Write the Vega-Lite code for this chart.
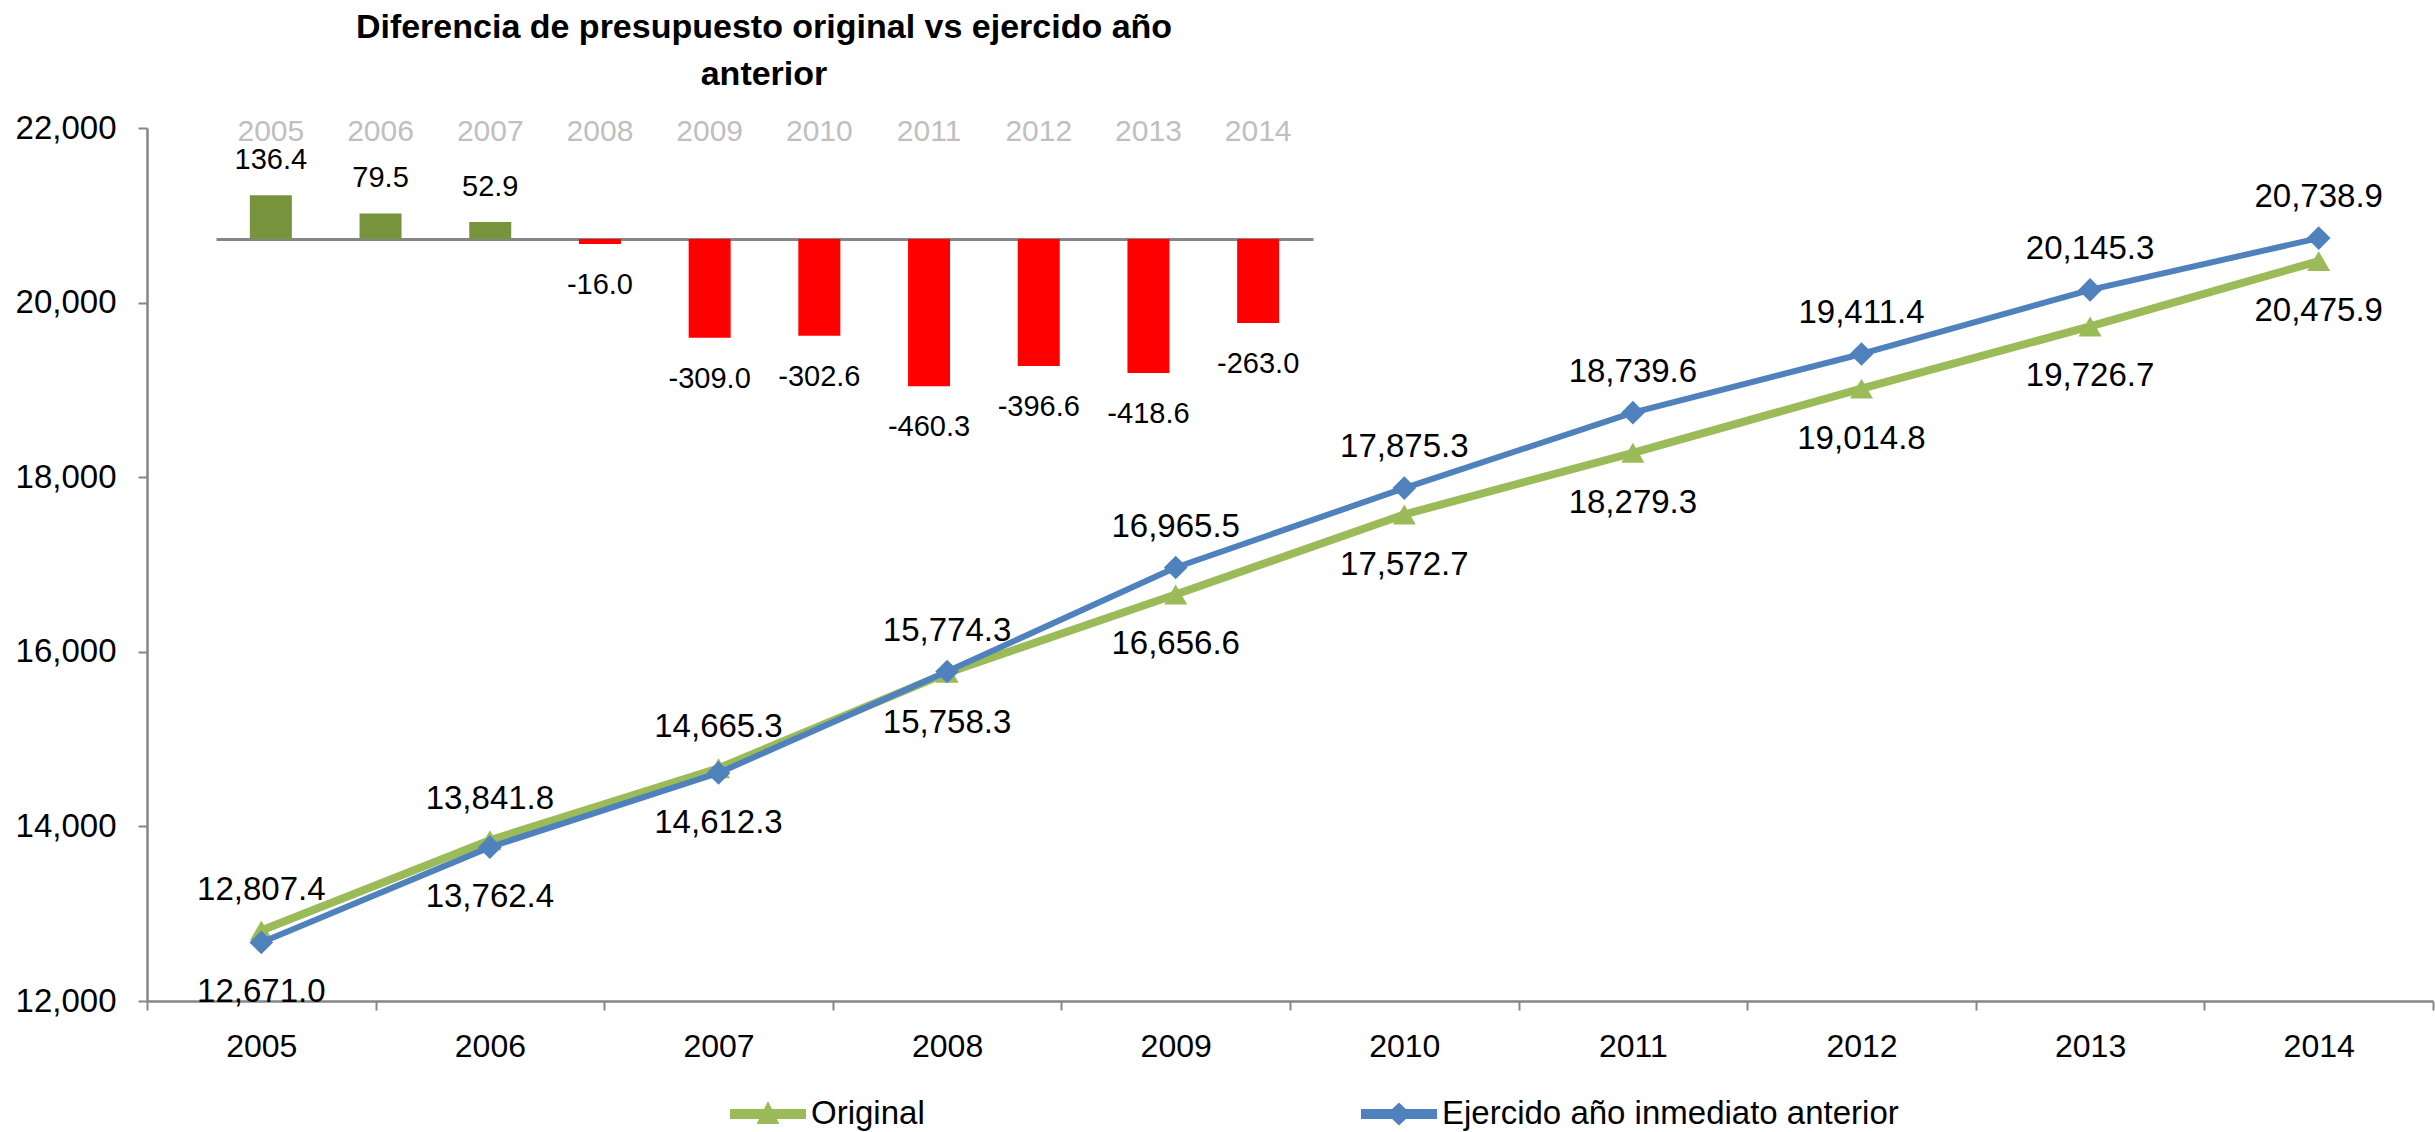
{
  "$schema": "https://vega.github.io/schema/vega-lite/v6.json",
  "width": 2286,
  "height": 873,
  "autosize": {"type": "none"},
  "padding": {"left": 147, "top": 128, "right": 2, "bottom": 131},
  "background": "white",
  "config": {
    "view": {"stroke": null},
    "font": "Liberation Sans",
    "locale": {"number": {"decimal": ".", "thousands": ",", "grouping": [3], "currency": ["$", ""], "minus": "-"}},
    "axis": {"labelFont": "Liberation Sans", "labelColor": "black", "grid": false, "title": null}
  },
  "title": {
    "text": ["Diferencia de presupuesto original vs ejercido año", "anterior"],
    "anchor": "start",
    "frame": "group",
    "align": "center",
    "dx": 617,
    "offset": 20,
    "font": "Liberation Sans",
    "fontSize": 34,
    "fontWeight": "bold",
    "color": "black",
    "lineHeight": 47
  },
  "datasets": {
    "lines": [
      {"year": "2005", "series": "Original", "value": 12807.4},
      {"year": "2006", "series": "Original", "value": 13841.8},
      {"year": "2007", "series": "Original", "value": 14665.3},
      {"year": "2008", "series": "Original", "value": 15758.3},
      {"year": "2009", "series": "Original", "value": 16656.6},
      {"year": "2010", "series": "Original", "value": 17572.7},
      {"year": "2011", "series": "Original", "value": 18279.3},
      {"year": "2012", "series": "Original", "value": 19014.8},
      {"year": "2013", "series": "Original", "value": 19726.7},
      {"year": "2014", "series": "Original", "value": 20475.9},
      {"year": "2005", "series": "Ejercido año inmediato anterior", "value": 12671.0},
      {"year": "2006", "series": "Ejercido año inmediato anterior", "value": 13762.4},
      {"year": "2007", "series": "Ejercido año inmediato anterior", "value": 14612.3},
      {"year": "2008", "series": "Ejercido año inmediato anterior", "value": 15774.3},
      {"year": "2009", "series": "Ejercido año inmediato anterior", "value": 16965.5},
      {"year": "2010", "series": "Ejercido año inmediato anterior", "value": 17875.3},
      {"year": "2011", "series": "Ejercido año inmediato anterior", "value": 18739.6},
      {"year": "2012", "series": "Ejercido año inmediato anterior", "value": 19411.4},
      {"year": "2013", "series": "Ejercido año inmediato anterior", "value": 20145.3},
      {"year": "2014", "series": "Ejercido año inmediato anterior", "value": 20738.9}
    ],
    "diff": [
      {"year": "2005", "diff": 136.4},
      {"year": "2006", "diff": 79.5},
      {"year": "2007", "diff": 52.9},
      {"year": "2008", "diff": -16.0},
      {"year": "2009", "diff": -309.0},
      {"year": "2010", "diff": -302.6},
      {"year": "2011", "diff": -460.3},
      {"year": "2012", "diff": -396.6},
      {"year": "2013", "diff": -418.6},
      {"year": "2014", "diff": -263.0}
    ]
  },
  "layer": [
    {
      "data": {"name": "lines"},
      "encoding": {
        "x": {
          "field": "year", "type": "nominal",
          "scale": {"paddingInner": 0, "paddingOuter": 0},
          "axis": {
            "orient": "bottom", "labelAngle": 0, "labelFontSize": 32, "tickBand": "extent",
            "tickSize": 9, "labelPadding": 21, "domainColor": "#868686", "tickColor": "#868686",
            "domainWidth": 2.5, "tickWidth": 2
          }
        },
        "y": {
          "field": "value", "type": "quantitative",
          "scale": {"domain": [12000, 22000], "nice": false, "zero": false},
          "axis": {
            "values": [12000, 14000, 16000, 18000, 20000, 22000], "format": ",d",
            "labelFontSize": 33, "tickSize": 9, "labelPadding": 22,
            "domainColor": "#868686", "tickColor": "#868686", "domainWidth": 2.5, "tickWidth": 2
          }
        }
      },
      "layer": [
        {
          "transform": [{"filter": "datum.series === 'Original'"}],
          "mark": {"type": "line", "strokeWidth": 8, "strokeJoin": "round", "strokeCap": "round"},
          "encoding": {
            "color": {
              "field": "series", "type": "nominal",
              "scale": {"domain": ["Original", "Ejercido año inmediato anterior"], "range": ["#9BBB59", "#4F81BD"]},
              "legend": {
                "title": null, "orient": "none", "legendX": 583, "legendY": 948, "direction": "horizontal",
                "symbolSize": 5776, "symbolStrokeWidth": 0, "labelFontSize": 33, "labelFont": "Liberation Sans",
                "labelColor": "black", "labelOffset": 5, "labelLimit": 1000, "columnPadding": 436, "padding": 0,
                "encode": {"symbols": {"update": {
                  "shape": {"signal": "datum.value === 'Original' ? 'M-1,-0.13H1V0.13H-1Z M0,-0.34L0.3,0.26H-0.3Z' : 'M-1,-0.13H1V0.13H-1Z M0,-0.3L0.32,0L0,0.3L-0.32,0Z'"},
                  "fill": {"signal": "datum.value === 'Original' ? '#9BBB59' : '#4F81BD'"},
                  "stroke": {"value": "transparent"},
                  "opacity": {"value": 1}
                }}}
              }
            }
          }
        },
        {
          "transform": [{"filter": "datum.series === 'Original'"}],
          "mark": {"type": "point", "shape": "triangle-up", "size": 529, "filled": true, "opacity": 1, "color": "#9BBB59"}
        },
        {
          "transform": [{"filter": "datum.series !== 'Original'"}],
          "mark": {"type": "line", "strokeWidth": 6, "strokeJoin": "round", "strokeCap": "round"},
          "encoding": {
            "color": {
              "field": "series", "type": "nominal",
              "scale": {"domain": ["Original", "Ejercido año inmediato anterior"], "range": ["#9BBB59", "#4F81BD"]},
              "legend": {
                "title": null, "orient": "none", "legendX": 583, "legendY": 948, "direction": "horizontal",
                "symbolSize": 5776, "symbolStrokeWidth": 0, "labelFontSize": 33, "labelFont": "Liberation Sans",
                "labelColor": "black", "labelOffset": 5, "labelLimit": 1000, "columnPadding": 436, "padding": 0,
                "encode": {"symbols": {"update": {
                  "shape": {"signal": "datum.value === 'Original' ? 'M-1,-0.13H1V0.13H-1Z M0,-0.34L0.3,0.26H-0.3Z' : 'M-1,-0.13H1V0.13H-1Z M0,-0.3L0.32,0L0,0.3L-0.32,0Z'"},
                  "fill": {"signal": "datum.value === 'Original' ? '#9BBB59' : '#4F81BD'"},
                  "stroke": {"value": "transparent"},
                  "opacity": {"value": 1}
                }}}
              }
            }
          }
        },
        {
          "transform": [{"filter": "datum.series !== 'Original'"}],
          "mark": {"type": "point", "shape": "diamond", "size": 560, "filled": true, "opacity": 1, "color": "#4F81BD"}
        },
        {
          "transform": [
            {"joinaggregate": [{"op": "max", "field": "value", "as": "maxv"}], "groupby": ["year"]},
            {"filter": "datum.value === datum.maxv"}
          ],
          "mark": {"type": "text", "fontSize": 33, "baseline": "middle", "align": "center", "dy": -41, "color": "black"},
          "encoding": {"text": {"field": "value", "type": "quantitative", "format": ",.1f"}}
        },
        {
          "transform": [
            {"joinaggregate": [{"op": "max", "field": "value", "as": "maxv"}], "groupby": ["year"]},
            {"filter": "datum.value < datum.maxv"}
          ],
          "mark": {"type": "text", "fontSize": 33, "baseline": "middle", "align": "center", "dy": 50, "color": "black"},
          "encoding": {"text": {"field": "value", "type": "quantitative", "format": ",.1f"}}
        }
      ]
    },
    {
      "data": {"name": "diff"},
      "encoding": {
        "x": {
          "field": "year", "type": "nominal",
          "scale": {"range": [69, 1166], "paddingInner": 0, "paddingOuter": 0},
          "axis": {
            "orient": "top", "offset": -111, "labelAngle": 0, "labelFontSize": 30, "labelColor": "#BFBFBF",
            "ticks": false, "tickSize": 0, "labelBaseline": "middle", "labelPadding": 108,
            "domainColor": "#868686", "domainWidth": 3
          }
        },
        "y": {
          "field": "diff", "type": "quantitative",
          "scale": {"domain": [-500, 340], "range": [271, 2], "nice": false, "zero": false},
          "axis": null
        }
      },
      "layer": [
        {
          "mark": {"type": "bar", "size": 42},
          "encoding": {
            "color": {"condition": {"test": "datum.diff > 0", "value": "#77933C"}, "value": "#FF0000"}
          }
        },
        {
          "transform": [{"filter": "datum.diff > 0"}],
          "mark": {"type": "text", "fontSize": 29, "baseline": "middle", "align": "center", "dy": -35, "color": "black"},
          "encoding": {"text": {"field": "diff", "type": "quantitative", "format": ",.1f"}}
        },
        {
          "transform": [{"filter": "datum.diff < 0"}],
          "mark": {"type": "text", "fontSize": 29, "baseline": "middle", "align": "center", "dy": 41, "color": "black"},
          "encoding": {"text": {"field": "diff", "type": "quantitative", "format": ",.1f"}}
        }
      ]
    }
  ],
  "resolve": {"scale": {"x": "independent", "y": "independent"}, "axis": {"x": "independent", "y": "independent"}}
}
